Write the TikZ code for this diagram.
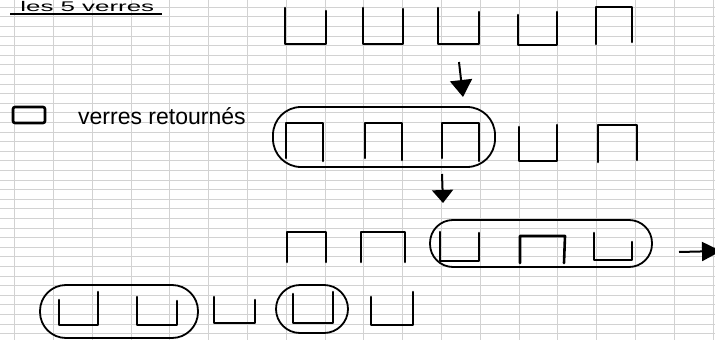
\documentclass[tikz,border=0pt]{standalone}
\usepackage{fontspec}
\setmainfont{Liberation Sans}
\usetikzlibrary{arrows.meta}
\tikzset{
  gridline/.style={gray!35, line width=0.6pt},
  cup/.style={black, line width=2.6pt, line join=round, line cap=round},
  loopbox/.style={draw=black, line width=1.8pt, rounded corners=26pt, inner sep=0pt, fill=none},
  legendbox/.style={draw=black, line width=2.6pt, rounded corners=2pt, inner sep=0pt, minimum width=32pt, minimum height=16pt},
  hand/.style={font=\fontsize{23}{23}\selectfont, inner sep=0pt},
  flow/.style={black, line width=2pt, -{Triangle[width=22pt,length=17pt]}},
}
\begin{document}
\begin{tikzpicture}[x=1pt,y=-1pt]
\useasboundingbox (0,0) rectangle (715,340);
\clip (0,0) rectangle (715,340);
\fill[white] (0,0) rectangle (715,340);
% Seyes paper grid
\foreach \k in {0,...,35} {\draw[gridline] (0,7+9.6*\k) -- (715,7+9.6*\k);}
\foreach \k in {0,...,18} {\draw[gridline] (14.5+38.8*\k,0) -- (14.5+38.8*\k,340);}
% title
\node[font=\fontsize{14}{14}\selectfont, inner sep=0pt, anchor=base west, xscale=1.85] (title) at (20,11) {les 5 verres};
\draw[black, line width=2pt] (10,13.5) -- (162,13.5);
% legend
\node[legendbox] (leg) at (29,115) {};
\node[hand, anchor=west] (legtxt) at (78,116) {verres retournés};
% row 1
\draw[cup] (285,8) |- (326,44) -- (326,11);
\draw[cup] (363,8) |- (403,44) -- (403,9);
\draw[cup] (438,8) |- (479,44) -- (479,12);
\draw[cup] (518,15) |- (557,45) -- (557,12);
\draw[cup] (596,44) |- (632,7) -- (632,42);
% arrow 1
\coordinate (a1s) at (459,62);
\coordinate (a1e) at (463,97);
\draw[flow] (a1s) -- (a1e);
% row 2
\node[loopbox, minimum width=222pt, minimum height=60pt, rounded corners=28pt] (g2) at (384,137) {};
\draw[cup] (286,158) |- (323,123) -- (323,161);
\draw[cup] (365,158) |- (402,123) -- (402,160);
\draw[cup] (442,158) |- (479,123) -- (479,161);
\draw[cup] (519,127) |- (557,161) -- (557,125);
\draw[cup] (598,162) |- (637,125) -- (637,160);
% arrow 2
\coordinate (a2s) at (442,174);
\coordinate (a2e) at (443,203);
\draw[flow, -{Triangle[width=21pt,length=13pt]}] (a2s) -- (a2e);
% row 3
\node[loopbox, minimum width=222pt, minimum height=47pt, rounded corners=23pt] (g3) at (541,243.5) {};
\draw[cup] (287,262) |- (326,232) -- (326,262);
\draw[cup] (361,262) |- (405,232) -- (405,262);
\draw[cup] (440,232) |- (479,261) -- (479,233);
\draw[cup] (520,263) |- (565,236) -- (564,263);
\draw[cup] (594,233) |- (632,260) -- (632,242);
% arrow 3
\coordinate (a3s) at (679,252);
\coordinate (a3e) at (721,251);
\draw[flow, -{Triangle[width=19pt,length=19pt]}] (a3s) -- (a3e);
% row 4
\node[loopbox, minimum width=158pt, minimum height=53pt, rounded corners=26pt] (g4a) at (119,311.5) {};
\node[loopbox, minimum width=72pt, minimum height=48pt, rounded corners=24pt] (g4b) at (312,309) {};
\draw[cup] (59,300) |- (98,325) -- (98,292);
\draw[cup] (137,297) |- (177,325) -- (177,301);
\draw[cup] (214,297) |- (255,323) -- (255,300);
\draw[cup] (293,294) |- (333,323) -- (333,292);
\draw[cup] (371,297) |- (413,325) -- (413,292);
\end{tikzpicture}
\end{document}
